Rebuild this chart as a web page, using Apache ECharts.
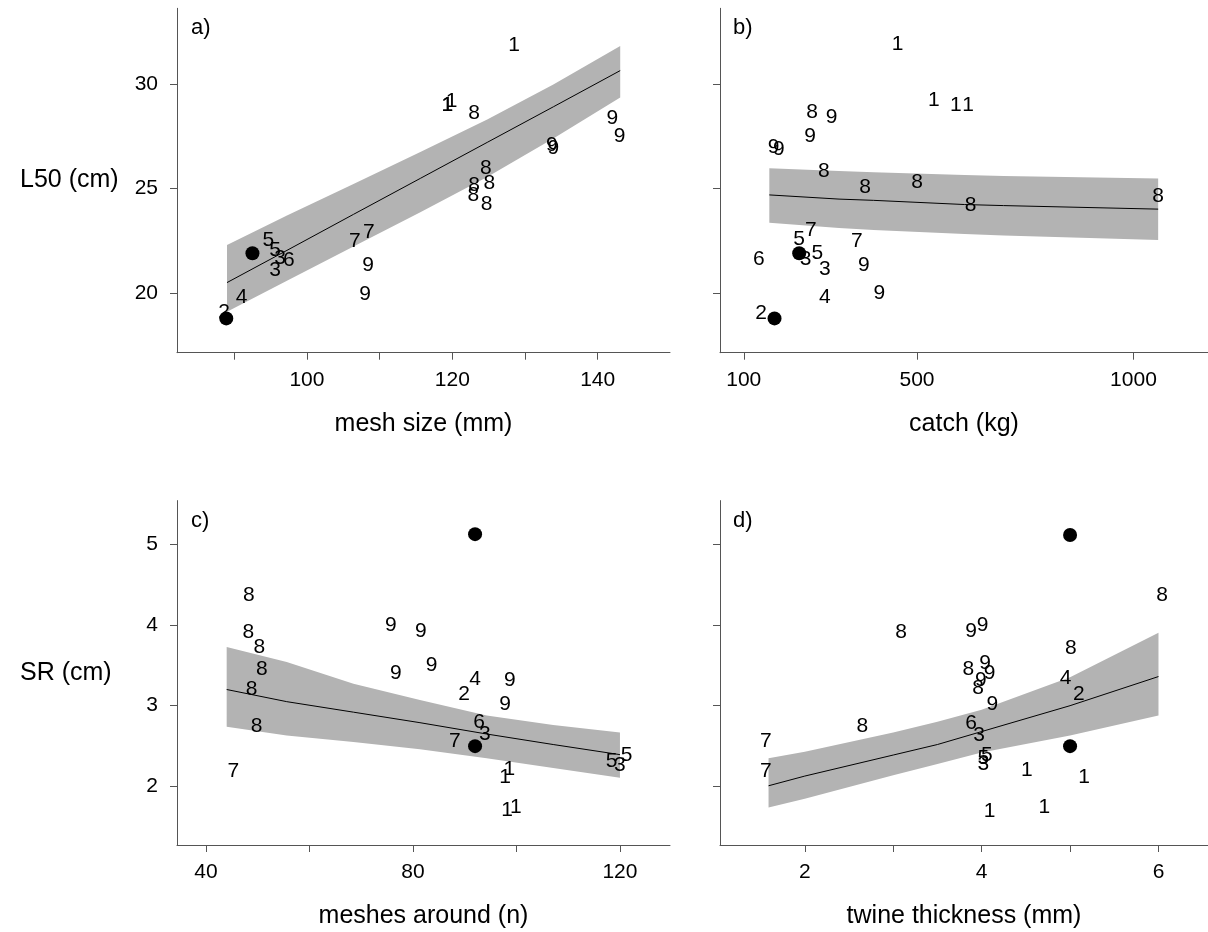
<!DOCTYPE html>
<html><head><meta charset="utf-8">
<script src="https://cdn.jsdelivr.net/npm/echarts@6/dist/echarts.min.js"></script>
<style>html,body{margin:0;padding:0;background:#fff}#c{width:1208px;height:932px}</style>
</head><body><div id="c"></div>
<script>
// ---------- Panel a: mesh size (mm) vs L50 (cm) ----------
const aGroup = ['1','1','1','1','8','8','8','8','8','8','9','9','9','9','9','9','7','7','5','5','3','3','6','4','2'];
const aMesh  = [128.5,119.9,119.3,119.3, 123.0,124.6,125.1,123.0,122.9,124.7, 142.0,143.0,133.7,133.9,108.4,108.0, 106.6,108.5, 94.7,95.6, 96.3,95.6, 97.5, 91.0, 88.6];
const aL50   = [31.86,29.2,29.0,29.0, 28.6,25.97,25.28,25.17,24.7,24.27, 28.36,27.52,27.09,26.93,21.32,19.97, 22.51,22.94, 22.55,22.07, 21.67,21.11, 21.59, 19.79, 19.1];
const aDotMesh = [92.5, 88.9];
const aDotL50  = [21.91, 18.8];
const aBandMesh = [89.0, 97.25, 106.4, 115.6, 124.8, 133.9, 143.1];
const aFit      = [20.51, 22.05, 23.77, 25.49, 27.21, 28.91, 30.64];
const aLower    = [19.12, 20.60, 22.23, 23.87, 25.56, 27.40, 29.36];
const aUpper    = [22.31, 23.72, 25.22, 26.75, 28.30, 29.98, 31.82];

// ---------- Panel b: catch (kg) vs L50 (cm) ----------
const bGroup = ['1','1','1','1','8','8','8','8','8','8','9','9','9','9','9','9','7','7','5','5','3','3','6','4','2'];
const bCatch = [455,539,590,618, 258,285,380,500,624,1057, 303,253,169,181,377,413, 255,361, 228,270, 243,287, 135, 287, 140];
const bL50   = [31.9,29.24,29.0,29.0, 28.63,25.82,25.08,25.33,24.22,24.65, 28.41,27.52,27.0,26.88,21.35,20.0, 23.0,22.5, 22.56,21.91, 21.62,21.15, 21.62, 19.79, 19.04];
const bDotCatch = [228, 171];
const bDotL50   = [21.91, 18.8];
const bBandCatch = [159, 320, 400, 610, 700, 1057];
const bFit       = [24.70, 24.50, 24.44, 24.24, 24.19, 24.02];
const bLower     = [23.37, 23.12, 23.02, 22.83, 22.76, 22.55];
const bUpper     = [25.97, 25.84, 25.78, 25.65, 25.60, 25.49];

// ---------- Panel c: meshes around (n) vs SR (cm) ----------
const cGroup  = ['1','1','1','1','8','8','8','8','8','8','9','9','9','9','9','9','7','7','5','5','3','3','6','4','2'];
const cMeshes = [98.6,97.8,98.2,99.9, 48.3,48.2,50.3,50.8,48.8,49.8, 75.7,81.5,76.7,83.6,98.7,97.8, 45.3,88.1, 118.4,121.3, 93.9,120.0, 92.8, 92.0, 89.9];
const cSR     = [2.22,2.11,1.71,1.75, 4.37,3.91,3.72,3.45,3.20,2.75, 3.99,3.92,3.40,3.50,3.32,3.02, 2.19,2.56, 2.31,2.39, 2.65,2.27, 2.79, 3.33, 3.14];
const cDotMeshes = [92.0, 92.0];
const cDotSR     = [5.12, 2.50];
const cBandMeshes = [44.0, 55.6, 68.5, 81.35, 94.24, 107.1, 120.0];
const cFit        = [3.20, 3.05, 2.92, 2.79, 2.65, 2.52, 2.395];
const cLower      = [2.74, 2.63, 2.55, 2.46, 2.35, 2.23, 2.11];
const cUpper      = [3.725, 3.54, 3.27, 3.07, 2.88, 2.76, 2.67];

// ---------- Panel d: twine thickness (mm) vs SR (cm) ----------
const dGroup = ['1','1','1','1','8','8','8','8','8','8','9','9','9','9','9','9','7','7','5','5','3','3','6','4','2'];
const dTwine = [4.51,5.16,4.09,4.71, 6.04,3.09,5.01,3.85,3.96,2.65, 4.01,3.88,4.09,4.04,3.99,4.12, 1.56,1.56, 4.06,4.02, 3.97,4.02, 3.88, 4.95, 5.10];
const dSR    = [2.20,2.11,1.70,1.75, 4.36,3.91,3.71,3.45,3.21,2.75, 3.99,3.92,3.40,3.52,3.32,3.02, 2.19,2.56, 2.39,2.35, 2.63,2.28, 2.78, 3.34, 3.14];
const dDotTwine = [5.0, 5.0];
const dDotSR    = [5.11, 2.50];
const dBandTwine = [1.59, 2.0, 3.0, 3.5, 4.0, 5.0, 6.0];
const dFit       = [2.01, 2.13, 2.39, 2.52, 2.68, 3.0, 3.36];
const dLower     = [1.74, 1.85, 2.14, 2.28, 2.42, 2.63, 2.88];
const dUpper     = [2.35, 2.43, 2.67, 2.80, 2.95, 3.35, 3.90];

// ---------- Tick values ----------
const aXTicks = [90,100,110,120,130,140];   const aXLabels = [100,120,140];
const bXTicks = [100,500,1000];             const bXLabels = [100,500,1000];
const cXTicks = [40,60,80,100,120];         const cXLabels = [40,80,120];
const dXTicks = [2,3,4,5,6];                const dXLabels = [2,4,6];
const L50Ticks = [20,25,30];
const SRTicks  = [2,3,4,5];

const FONT = 'Liberation Sans, Arial, sans-serif';
const AX = '#555';

function xAxisOf(gi, min, max, ticks, labels, name) {
  return {
    gridIndex: gi, type: 'value', min: min, max: max,
    axisLine: {show: true, onZero: false, lineStyle: {color: AX, width: 1}},
    axisTick: {show: true, length: 7, customValues: ticks, lineStyle: {color: AX, width: 1}},
    axisLabel: {show: true, customValues: labels, margin: 17, fontSize: 21, color: '#000',
      fontFamily: FONT, formatter: v => String(v)},
    splitLine: {show: false},
    name: name, nameLocation: 'middle', nameGap: 59,
    nameTextStyle: {fontSize: 25, color: '#000', fontFamily: FONT}
  };
}
function yAxisOf(gi, min, max, ticks, showLabels, name) {
  return {
    gridIndex: gi, type: 'value', min: min, max: max,
    axisLine: {show: true, onZero: false, lineStyle: {color: AX, width: 1}},
    axisTick: {show: true, length: 7, customValues: ticks, lineStyle: {color: AX, width: 1}},
    axisLabel: {show: showLabels, customValues: ticks, margin: 19, fontSize: 21, color: '#000',
      fontFamily: FONT, formatter: v => String(v)},
    splitLine: {show: false},
    name: name, nameLocation: 'middle', nameRotate: 0, nameGap: 157,
    nameTextStyle: {fontSize: 25, color: '#000', fontFamily: FONT, align: 'left', verticalAlign: 'middle'}
  };
}
function bandSeries(gi, xs, lo, hi) {
  return {
    type: 'custom', xAxisIndex: gi, yAxisIndex: gi, z: 1, silent: true,
    data: xs.map((x, i) => [x, lo[i], hi[i]]),
    encode: {x: 0, y: [1, 2]},
    renderItem: function (params, api) {
      if (params.dataIndex !== 0) return {type: 'group', children: []};
      const pts = [];
      for (let i = 0; i < xs.length; i++) pts.push(api.coord([xs[i], hi[i]]));
      for (let i = xs.length - 1; i >= 0; i--) pts.push(api.coord([xs[i], lo[i]]));
      return {type: 'polygon', shape: {points: pts}, style: {fill: '#b3b3b3', stroke: null}};
    }
  };
}
function fitSeries(gi, xs, ys) {
  return {type: 'line', xAxisIndex: gi, yAxisIndex: gi, z: 3, silent: true, symbol: 'none',
    data: xs.map((x, i) => [x, ys[i]]), lineStyle: {color: '#000', width: 1}};
}
function textSeries(gi, xs, ys, labs) {
  return {type: 'scatter', xAxisIndex: gi, yAxisIndex: gi, z: 4, silent: true,
    symbolSize: 1, itemStyle: {color: 'rgba(0,0,0,0)', opacity: 1},
    data: xs.map((x, i) => [x, ys[i], labs[i]]),
    label: {show: true, position: 'inside', formatter: p => p.data[2],
      color: '#000', opacity: 1, fontSize: 21, fontFamily: FONT}};
}
function dotSeries(gi, xs, ys) {
  return {type: 'scatter', xAxisIndex: gi, yAxisIndex: gi, z: 5, silent: true,
    symbol: 'circle', symbolSize: 14, itemStyle: {color: '#000', opacity: 1},
    data: xs.map((x, i) => [x, ys[i]])};
}

const chart = echarts.init(document.getElementById('c'), null, {renderer: 'canvas'});
chart.setOption({
  animation: false,
  backgroundColor: '#fff',
  grid: [
    {left: 177, top: 8.3, width: 493, height: 344.4},
    {left: 720, top: 8.3, width: 493, height: 344.4},
    {left: 177, top: 500.6, width: 493, height: 344.4},
    {left: 720, top: 500.6, width: 493, height: 344.4}
  ],
  xAxis: [
    xAxisOf(0, 82.12, 149.95, aXTicks, aXLabels, 'mesh size (mm)'),
    xAxisOf(1, 45.1, 1172.1, bXTicks, bXLabels, 'catch (kg)'),
    xAxisOf(2, 34.4, 129.67, cXTicks, cXLabels, 'meshes around (n)'),
    xAxisOf(3, 1.041, 6.56, dXTicks, dXLabels, 'twine thickness (mm)')
  ],
  yAxis: [
    yAxisOf(0, 17.16, 33.617, L50Ticks, true, 'L50 (cm)'),
    yAxisOf(1, 17.16, 33.617, L50Ticks, false, ''),
    yAxisOf(2, 1.278, 5.535, SRTicks, true, 'SR (cm)'),
    yAxisOf(3, 1.278, 5.535, SRTicks, false, '')
  ],
  graphic: [
    {type: 'text', left: 191, top: 17, style: {text: 'a)', fontSize: 22, fill: '#000', fontFamily: FONT}},
    {type: 'text', left: 733, top: 17, style: {text: 'b)', fontSize: 22, fill: '#000', fontFamily: FONT}},
    {type: 'text', left: 191, top: 510, style: {text: 'c)', fontSize: 22, fill: '#000', fontFamily: FONT}},
    {type: 'text', left: 733, top: 510, style: {text: 'd)', fontSize: 22, fill: '#000', fontFamily: FONT}}
  ],
  series: [
    bandSeries(0, aBandMesh, aLower, aUpper), fitSeries(0, aBandMesh, aFit),
    textSeries(0, aMesh, aL50, aGroup), dotSeries(0, aDotMesh, aDotL50),
    bandSeries(1, bBandCatch, bLower, bUpper), fitSeries(1, bBandCatch, bFit),
    textSeries(1, bCatch, bL50, bGroup), dotSeries(1, bDotCatch, bDotL50),
    bandSeries(2, cBandMeshes, cLower, cUpper), fitSeries(2, cBandMeshes, cFit),
    textSeries(2, cMeshes, cSR, cGroup), dotSeries(2, cDotMeshes, cDotSR),
    bandSeries(3, dBandTwine, dLower, dUpper), fitSeries(3, dBandTwine, dFit),
    textSeries(3, dTwine, dSR, dGroup), dotSeries(3, dDotTwine, dDotSR)
  ]
});
</script>
</body></html>
